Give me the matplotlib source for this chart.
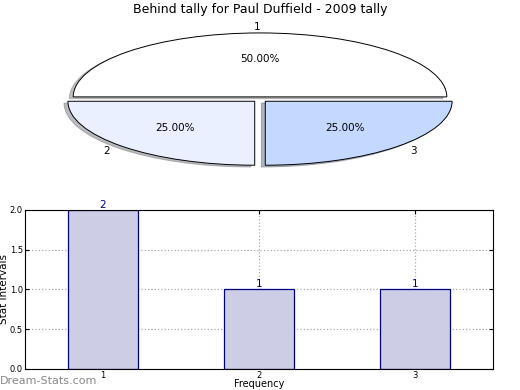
import numpy as np
import matplotlib
matplotlib.use('Agg')
import matplotlib.pyplot as plt

# pie data
pie_labels = ['1', '2', '3']
pie_values = [2, 1, 1]
pie_colors = ['#ffffff', '#eaf0ff', '#c5d8ff']

# bar data
bar_x = [1, 2, 3]
bar_values = [2, 1, 1]
bar_ticks = ['1', '2', '3']
y_ticks = [0.0, 0.5, 1.0, 1.5, 2.0]

fig = plt.figure(figsize=(5.2, 3.9), dpi=100)

# --- pie (not equal aspect, so it is squashed)
ax1 = fig.add_axes([0.051, 0.54, 0.898, 0.41])
wedges, texts, autotexts = ax1.pie(
    pie_values, labels=pie_labels, colors=pie_colors,
    explode=(0.04, 0.04, 0.04), autopct='%1.2f%%',
    shadow={'ox': -0.015, 'oy': -0.02, 'shade': 0.5},
    startangle=0, counterclock=True, labeldistance=1.1, pctdistance=0.6,
    wedgeprops=dict(edgecolor='black', linewidth=0.7),
    textprops=dict(fontsize=7.5))
ax1.set_aspect('auto')
ax1.set_xlim(-1.25, 1.25)
ax1.set_ylim(-1.25, 1.25)
fig.text(0.5, 0.975, 'Behind tally for Paul Duffield - 2009 tally',
         ha='center', va='center', fontsize=9)

# --- bars
ax2 = fig.add_axes([0.048, 0.054, 0.9, 0.408])
ax2.bar(bar_x, bar_values, width=0.45, color='#cdcde5',
        edgecolor='#000080', linewidth=0.9, zorder=2)
for xi, v in zip(bar_x, bar_values):
    ax2.text(xi, v, str(v), ha='center', va='bottom', color='#000080', fontsize=7.5)
ax2.set_xlim(0.5, 3.5)
ax2.set_ylim(0, 2.0)
ax2.set_xticks(bar_x)
ax2.set_xticklabels(bar_ticks)
ax2.set_yticks(y_ticks)
ax2.set_yticklabels(['%.1f' % t for t in y_ticks])
ax2.tick_params(direction='in', top=True, right=True, labelsize=6, length=3, pad=1.5)
ax2.grid(True, linestyle=':', color='#aaaaaa', linewidth=0.9, zorder=0)
ax2.set_axisbelow(True)
ax2.set_ylabel('Stat intervals', fontsize=7.5)
ax2.set_xlabel('Frequency', fontsize=7, va='bottom')
ax2.yaxis.set_label_coords(-0.035, 0.5)
ax2.xaxis.set_label_coords(0.5, -0.128)

fig.text(0.0, 0.022, 'Dream-Stats.com', color='#888888', fontsize=8,
         ha='left', va='center')

fig.savefig('out.png', dpi=100)
